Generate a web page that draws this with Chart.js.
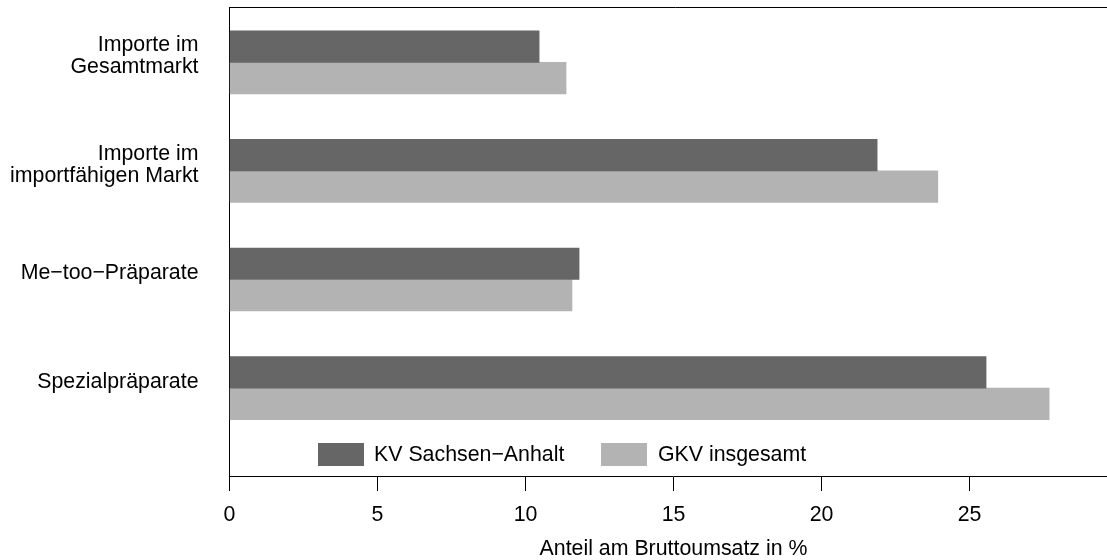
<!DOCTYPE html>
<html>
<head>
<meta charset="utf-8">
<script src="https://cdn.jsdelivr.net/npm/chart.js@4"></script>
<style>
  html, body { margin: 0; padding: 0; background: #fff; overflow: hidden; }
  #wrap { width: 1107px; height: 560px; overflow: hidden; }
</style>
</head>
<body>
<div id="wrap"><canvas id="canvas" width="1120" height="560"></canvas></div>
<script>
// categories (multi-line labels) and the two series
const categories = [
  ['Importe im', 'Gesamtmarkt'],
  ['Importe im', 'importfähigen Markt'],
  ['Me\u2212too\u2212Präparate'],
  ['Spezialpräparate'],
];
const seriesNames = ['KV Sachsen\u2212Anhalt', 'GKV insgesamt'];
const kvValues = [10.46, 21.88, 11.81, 25.56];
const gkvValues = [11.37, 23.93, 11.57, 27.69];
const xTicks = [0, 5, 10, 15, 20, 25];
const xTitle = 'Anteil am Bruttoumsatz in %';

const FONT = 'Liberation Sans';
const FS = 21.33;
Chart.defaults.font.family = FONT;
Chart.defaults.font.size = FS;
Chart.defaults.color = '#000';

const toPoints = (vals) => vals.map((v, i) => ({ x: v, y: i }));

// top frame line + legend drawn inside the plot
const framePlugin = {
  id: 'frameAndLegend',
  afterDraw(chart) {
    const { ctx, chartArea } = chart;
    ctx.save();
    ctx.strokeStyle = '#000';
    ctx.lineWidth = 1;
    ctx.beginPath();
    ctx.moveTo(chartArea.left, chartArea.top + 0.5);
    ctx.lineTo(chartArea.right + 5, chartArea.top + 0.5);
    ctx.stroke();

    const boxX = [318, 601];
    const textX = [374, 658];
    ctx.font = FS + 'px "' + FONT + '"';
    ctx.textBaseline = 'middle';
    ctx.textAlign = 'left';
    chart.data.datasets.forEach((ds, i) => {
      ctx.fillStyle = ds.backgroundColor;
      ctx.fillRect(boxX[i], 443, 46, 23);
      ctx.fillStyle = '#000';
      ctx.fillText(ds.label, textX[i], 455);
    });
    ctx.restore();
  },
};

new Chart(document.getElementById('canvas'), {
  type: 'bar',
  data: {
    datasets: [
      { label: seriesNames[0], data: toPoints(kvValues), backgroundColor: '#666666' },
      { label: seriesNames[1], data: toPoints(gkvValues), backgroundColor: '#b3b3b3' },
    ],
  },
  options: {
    indexAxis: 'y',
    responsive: false,
    animation: false,
    layout: { padding: { left: 0, top: 7, right: 2.5, bottom: 0 } },
    datasets: { bar: { barThickness: 31.5, borderWidth: 0 } },
    plugins: {
      legend: { display: false },
      tooltip: { enabled: false },
    },
    scales: {
      x: {
        type: 'linear',
        min: 0,
        max: 30,
        afterBuildTicks: (scale) => { scale.ticks = xTicks.map((v) => ({ value: v })); },
        afterFit: (scale) => { scale.height = 84; scale.paddingLeft = 0; scale.paddingRight = 0; },
        border: { display: true, color: '#000', width: 1 },
        grid: { drawOnChartArea: false, drawTicks: true, tickLength: 15, color: '#000', tickColor: '#000' },
        ticks: { padding: 11, maxRotation: 0 },
        title: { display: true, text: xTitle, padding: 0, font: { size: FS, lineHeight: 1.0 } },
      },
      y: {
        type: 'linear',
        reverse: true,
        offset: false,
        min: -0.51,
        max: 3.81,
        afterBuildTicks: (scale) => { scale.ticks = categories.map((c, i) => ({ value: i - 0.055 })); },
        afterFit: (scale) => { scale.width = 229.5; scale.paddingTop = 0; scale.paddingBottom = 0; },
        border: { display: true, color: '#000', width: 1 },
        grid: { offset: false, drawOnChartArea: false, drawTicks: false },
        ticks: {
          padding: 31,
          font: { size: FS, lineHeight: 1.02 },
          callback: (v) => categories[Math.round(v)] || '',
        },
      },
    },
  },
  plugins: [framePlugin],
});
</script>
</body>
</html>
